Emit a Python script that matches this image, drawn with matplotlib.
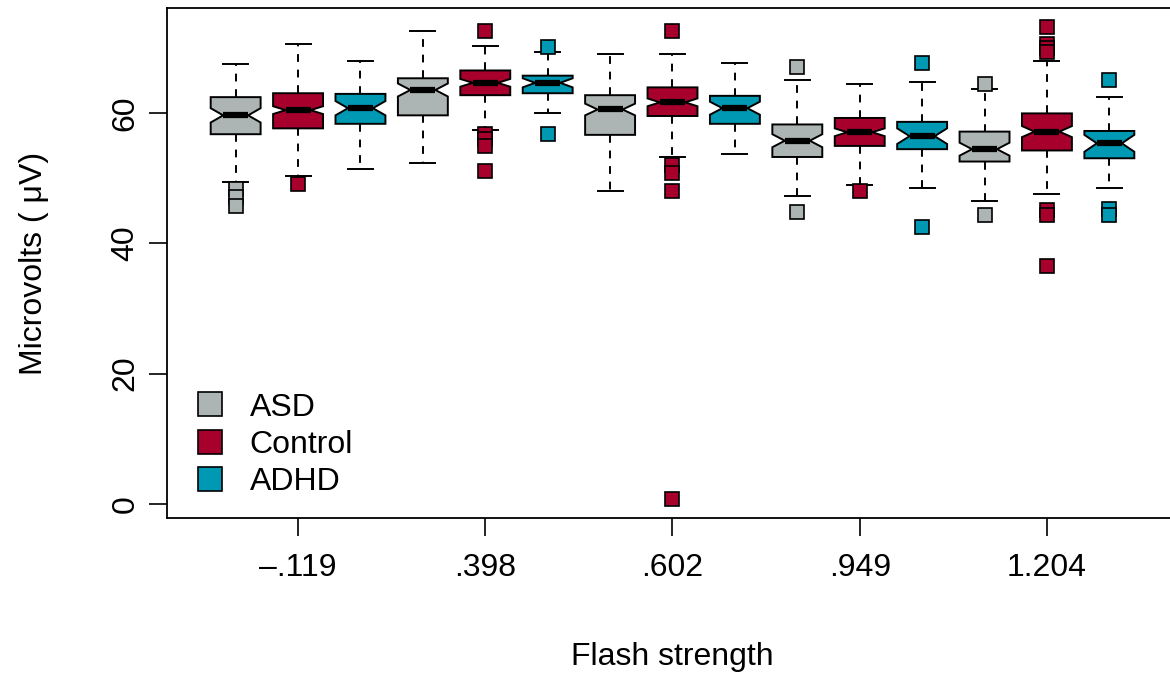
import matplotlib
matplotlib.use("Agg")
import matplotlib.pyplot as plt
from matplotlib.lines import Line2D
import numpy as np

plt.rcParams['font.family'] = ['Liberation Sans', 'DejaVu Sans']

# groups and flash strengths
groups = ["ASD", "Control", "ADHD"]
group_colors = ["#ADB4B4", "#A8002D", "#0099B4"]
flash_labels = ["\u2013.119", ".398", ".602", ".949", "1.204"]

# box statistics, one entry per box in order (flash strength x group)
medians = [59.7, 60.5, 60.8,  63.6, 64.7, 64.7,  60.6, 61.7, 60.8,
           55.8, 57.1, 56.5,  54.5, 57.2, 55.4]
q1s = [56.8, 57.7, 58.4,  59.7, 62.8, 63.1,  56.7, 59.6, 58.4,
       53.3, 55.0, 54.5,  52.6, 54.3, 53.1]
q3s = [62.5, 63.1, 63.0,  65.4, 66.6, 65.8,  62.8, 64.0, 62.7,
       58.3, 59.3, 58.7,  57.2, 60.0, 57.3]
whisk_lo = [49.4, 50.4, 51.5,  52.4, 57.4, 60.0,  48.0, 53.3, 53.8,
            47.3, 49.0, 48.5,  46.5, 47.6, 48.5]
whisk_hi = [67.6, 70.7, 68.1,  72.6, 70.4, 69.4,  69.1, 69.1, 67.7,
            65.2, 64.5, 64.8,  63.8, 68.1, 62.5]
notch_half = [1.1, 0.6, 1.1,  1.0, 0.6, 0.7,  0.9, 0.6, 1.0,
              1.0, 0.6, 1.2,  1.0, 0.85, 1.3]
outliers = [
    [48.3, 47.1, 45.7], [49.1], [],
    [], [72.6, 56.8, 56.1, 55.0, 51.2], [70.2, 56.9],
    [], [72.6, 52.0, 50.9, 48.0, 0.7], [],
    [67.1, 44.9], [48.0], [67.8, 42.6],
    [64.5, 44.4], [73.3, 70.7, 70.0, 69.4, 45.1, 44.4, 36.6], [65.2, 45.3, 44.4],
]

n_boxes = len(medians)
positions = np.arange(1, n_boxes + 1)

stats = []
for i in range(n_boxes):
    stats.append(dict(
        med=medians[i], q1=q1s[i], q3=q3s[i],
        whislo=whisk_lo[i], whishi=whisk_hi[i],
        cilo=medians[i] - notch_half[i], cihi=medians[i] + notch_half[i],
        fliers=outliers[i],
    ))

fig = plt.figure(figsize=(11.7, 6.73), dpi=100)
ax = fig.add_axes([167 / 1170, 155 / 673, 1011 / 1170, 510 / 673])

bp = ax.bxp(
    stats, positions=positions, widths=0.8, shownotches=True,
    patch_artist=True,
    boxprops=dict(edgecolor="black", linewidth=1.4),
    whiskerprops=dict(color="black", linewidth=1.4, linestyle=(0, (4, 4))),
    capprops=dict(color="black", linewidth=1.4),
    medianprops=dict(color="black", linewidth=4.5, solid_capstyle="butt"),
    flierprops=dict(marker="s", markersize=10, markeredgecolor="black",
                    markeredgewidth=1.2, linestyle="none"),
)

for i, box in enumerate(bp["boxes"]):
    box.set_facecolor(group_colors[i % 3])
for i, fl in enumerate(bp["fliers"]):
    fl.set_markerfacecolor(group_colors[i % 3])

# R-style 4% expansion around the data range
all_vals = whisk_lo + whisk_hi + [v for o in outliers for v in o]
lo, hi = min(all_vals), max(all_vals)
pad = 0.04 * (hi - lo)
ax.set_ylim(lo - pad, hi + pad)
ax.set_xlim(0.5 - 0.6, n_boxes + 0.5 + 0.6)

ax.set_xticks(positions[1::3])
ax.set_xticklabels(flash_labels)
ax.set_yticks([0, 20, 40, 60])
ax.set_yticklabels(["0", "20", "40", "60"], rotation=90, va="center")

ax.tick_params(axis="both", labelsize=23, length=13, width=1.2, color="black")
ax.tick_params(axis="x", pad=12)
ax.tick_params(axis="y", pad=6)
for sp in ax.spines.values():
    sp.set_linewidth(1.3)

ax.set_xlabel("Flash strength", fontsize=23, labelpad=43)
ax.set_ylabel("Microvolts ( \u03bcV)", fontsize=23, labelpad=44)

handles = [Line2D([], [], marker="s", linestyle="none", markersize=17,
                  markerfacecolor=c, markeredgecolor="black", markeredgewidth=1.2)
           for c in group_colors]
ax.legend(handles, groups, loc="lower left", bbox_to_anchor=(-0.005, -0.022),
          frameon=False, fontsize=23, handlelength=1.0, handletextpad=0.75,
          labelspacing=0.23, borderaxespad=0.6)

fig.savefig("out.png", dpi=100)
